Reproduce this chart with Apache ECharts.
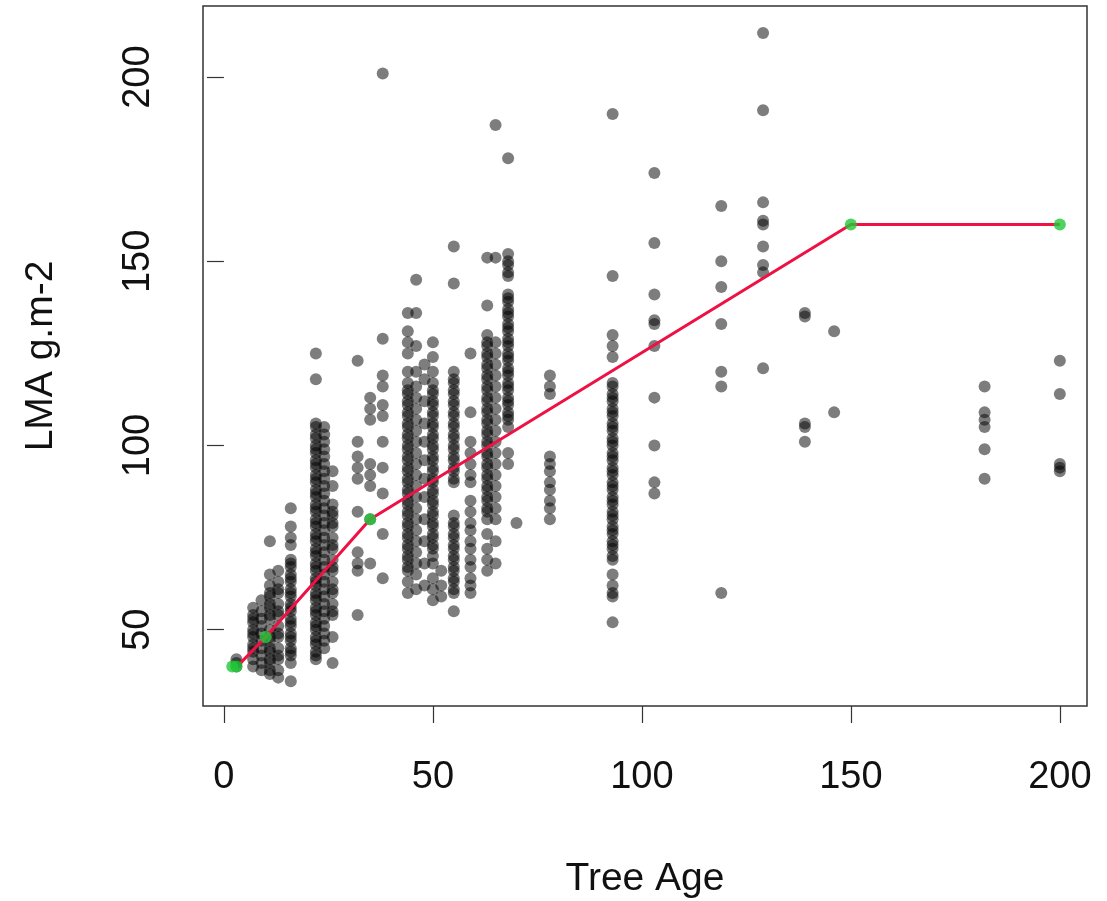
<!DOCTYPE html>
<html>
<head>
<meta charset="utf-8">
<script src="https://cdn.jsdelivr.net/npm/echarts@6/dist/echarts.min.js"></script>
<style>
html,body{margin:0;padding:0;background:#fff;}
#chart{width:1107px;height:901px;}
</style>
</head>
<body>
<div id="chart"></div>
<script>
// ---- data ----
const xTicks = [0, 50, 100, 150, 200];
const yTicks = [50, 100, 150, 200];
const xTitle = 'Tree Age';
const yTitle = 'LMA g.m-2';

// tree ages (x) of each vertical group of observations
const columnAges = [3, 7, 9, 11, 13, 16, 22, 24, 26, 32, 35, 38, 44, 46, 48, 50, 52, 55, 59, 63, 65, 68, 70, 78, 93, 103, 119, 129, 139, 146, 182, 200];
// LMA values observed at each age
const columnValues = [
  [42, 40, 41],
  [56, 54, 53, 52, 50, 49, 48, 46, 45, 44, 42, 40],
  [58, 55, 53, 51, 49, 47, 45, 43, 41, 39],
  [74, 65, 62, 60, 59, 57, 56, 54, 53, 50, 48, 47, 45, 44, 42, 41, 39, 38],
  [66, 63, 61, 60, 57, 55, 54, 51, 49, 48, 45, 43, 42, 39, 37],
  [83, 78, 75, 73, 69, 68, 67, 65, 64, 63, 61, 60, 59, 57, 56, 55, 53, 52, 51, 49, 48, 47, 45, 44, 43, 41, 36],
  [125, 118, 106, 105, 103, 102, 100, 99, 98, 96, 95, 94, 92, 91, 90, 88, 87, 86, 84, 83, 82, 80, 79, 78, 76, 75, 74, 72, 71, 70, 68, 67, 66, 64, 63, 62, 60, 59, 58, 56, 55, 54, 52, 51, 50, 48, 47, 46, 44, 43, 42],
  [105, 103, 101, 99, 97, 95, 93, 91, 89, 87, 85, 83, 81, 79, 77, 75, 73, 71, 69, 67, 65, 63, 61, 59, 57, 55, 53, 51, 49, 47, 45],
  [93, 89, 84, 82, 81, 79, 78, 75, 73, 72, 69, 67, 66, 63, 61, 60, 57, 55, 54, 48, 41],
  [123, 101, 97, 94, 91, 82, 71, 68, 66, 54],
  [113, 110, 107, 95, 92, 89, 80, 68],
  [201, 129, 119, 116, 111, 108, 101, 94, 87, 76, 64],
  [136, 131, 128, 125, 120, 117, 115, 114, 112, 111, 109, 108, 106, 105, 103, 102, 100, 99, 97, 96, 94, 93, 91, 90, 88, 87, 85, 84, 82, 81, 79, 78, 76, 75, 73, 72, 70, 69, 67, 66, 63, 60],
  [145, 136, 127, 120, 116, 113, 110, 107, 104, 101, 98, 95, 92, 89, 86, 83, 80, 77, 74, 71, 68, 65, 61],
  [122, 118, 112, 106, 101, 96, 91, 86, 80, 74, 68, 62],
  [128, 124, 120, 117, 115, 114, 112, 111, 109, 108, 106, 105, 103, 102, 100, 99, 97, 96, 94, 93, 91, 90, 88, 87, 85, 84, 82, 81, 79, 78, 76, 75, 73, 72, 70, 68, 64, 61, 58],
  [66, 62, 59],
  [154, 144, 120, 118, 117, 115, 114, 112, 111, 109, 108, 106, 105, 103, 102, 100, 99, 97, 96, 94, 93, 91, 90, 81, 79, 78, 76, 75, 73, 72, 70, 69, 67, 66, 64, 63, 61, 60, 55],
  [125, 109, 101, 98, 95, 92, 90, 85, 82, 79, 77, 74, 72, 69, 67, 64, 62, 60],
  [151, 138, 130, 128, 127, 125, 124, 122, 121, 119, 118, 116, 115, 113, 112, 110, 109, 107, 106, 104, 103, 101, 100, 98, 97, 95, 94, 92, 91, 89, 88, 86, 85, 83, 82, 80, 76, 72, 69, 66],
  [187, 151, 128, 125, 122, 119, 116, 113, 110, 107, 104, 101, 98, 95, 92, 89, 86, 83, 80, 74, 68],
  [178, 152, 150, 149, 147, 146, 141, 140, 139, 137, 136, 135, 133, 132, 131, 129, 128, 127, 125, 124, 123, 121, 120, 119, 117, 116, 115, 113, 112, 111, 109, 108, 107, 105, 98, 95],
  [79],
  [119, 116, 114, 97, 95, 93, 90, 88, 85, 83, 80],
  [190, 146, 130, 127, 124, 117, 116, 114, 113, 112, 110, 109, 108, 106, 105, 104, 102, 101, 100, 98, 97, 96, 94, 93, 92, 90, 89, 88, 86, 85, 84, 82, 81, 80, 78, 77, 76, 74, 73, 72, 70, 69, 65, 62, 60, 59, 52],
  [174, 155, 141, 134, 133, 127, 113, 100, 90, 87],
  [165, 150, 143, 133, 120, 116, 60],
  [212, 191, 166, 161, 160, 154, 149, 147, 121],
  [136, 135, 106, 105, 101],
  [131, 109],
  [116, 109, 107, 105, 99, 91],
  [123, 114, 95, 94, 93]
];

// fitted piecewise line (red) and its knots (green)
const lineAges = [4, 10, 35, 150, 200];
const lineLMA = [41, 48, 80, 160, 160];
const knotAges = [2, 3, 10, 35, 150, 200];
const knotLMA = [40, 40, 48, 80, 160, 160];

// ---- build ----
const scatterData = [];
columnAges.forEach((a, i) => columnValues[i].forEach(v => scatterData.push([a, v])));
const lineData = lineAges.map((a, i) => [a, lineLMA[i]]);
const knotData = knotAges.map((a, i) => [a, knotLMA[i]]);

const font = '"Liberation Sans", Arial, Helvetica, sans-serif';
const chart = echarts.init(document.getElementById('chart'), null, {renderer: 'canvas'});
chart.setOption({
  backgroundColor: '#ffffff',
  animation: false,
  grid: {left: 203, right: 20, top: 6, bottom: 195, containLabel: false, outerBoundsMode: 'none', show: true, borderColor: '#333', borderWidth: 1.5, backgroundColor: 'transparent'},
  xAxis: {
    type: 'value', min: -5, max: 206.5,
    axisLine: {show: false},
    splitLine: {show: false},
    axisTick: {show: true, customValues: xTicks, length: 17, inside: false, lineStyle: {color: '#333', width: 1.2}},
    axisLabel: {customValues: xTicks, margin: 53, fontSize: 38, fontFamily: font, color: '#111'},
    name: xTitle, nameLocation: 'middle', nameGap: 154,
    nameTextStyle: {fontSize: 39, fontFamily: font, color: '#111'}
  },
  yAxis: {
    type: 'value', min: 29.3, max: 219.3,
    axisLine: {show: false},
    splitLine: {show: false},
    axisTick: {show: true, customValues: yTicks, length: 17, inside: false, lineStyle: {color: '#333', width: 1.2}},
    axisLabel: {customValues: yTicks, rotate: 90, margin: 45, fontSize: 38, fontFamily: font, color: '#111'},
    name: yTitle, nameLocation: 'middle', nameGap: 142,
    nameTextStyle: {fontSize: 39, fontFamily: font, color: '#111'}
  },
  series: [
    {type: 'scatter', data: scatterData, symbol: 'circle', symbolSize: 12, itemStyle: {color: 'rgba(0,0,0,0.64)'}, z: 2},
    {type: 'line', data: lineData, showSymbol: false, lineStyle: {color: '#ee1144', width: 3}, z: 3},
    {type: 'scatter', data: knotData, symbol: 'circle', symbolSize: 12, itemStyle: {color: '#22c83a'}, z: 4}
  ]
});
</script>
</body>
</html>
